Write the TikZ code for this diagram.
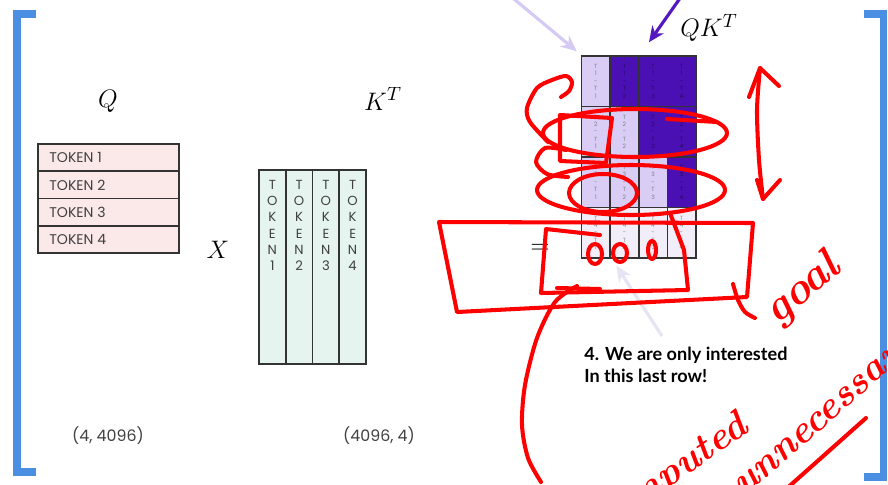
\documentclass[tikz,border=0pt]{standalone}
\usepackage{fontspec}
\newfontfamily\slidefont{Poppins}
\newfontfamily\notefont{Lato}
\usetikzlibrary{arrows.meta}

\definecolor{bracketblue}{HTML}{4A8FE2}
\definecolor{qpink}{HTML}{FBE9E9}
\definecolor{kmint}{HTML}{E6F4EF}
\definecolor{lilac}{HTML}{D9CCF5}
\definecolor{deeppurple}{HTML}{4A10B4}
\definecolor{paler}{HTML}{F1EEF9}
\definecolor{arrowlilac}{HTML}{D4CAF3}
\definecolor{arrowpurple}{HTML}{5518BE}
\definecolor{arrowfaint}{HTML}{E4E4F3}
\definecolor{inkred}{HTML}{FF0000}

\tikzset{
  qrowbox/.style={draw=black!80,line width=0.9pt,fill=qpink,minimum width=2.82cm,minimum height=0.545cm,inner sep=0pt},
  kcolbox/.style={draw=black!80,line width=0.9pt,fill=kmint,minimum width=0.535cm,minimum height=3.88cm,inner sep=0pt},
  qkcell/.style={draw=black!80,line width=0.9pt,minimum width=0.572cm,minimum height=1.01cm,inner sep=0pt,align=center,font=\slidefont\fontsize{3.4}{4.2}\selectfont},
  toklabel/.style={font=\slidefont\fontsize{8}{9.6}\selectfont,text=black!75,inner sep=0pt},
  tokstack/.style={font=\slidefont\fontsize{7.5}{9.2}\selectfont,text=black!75,align=center,inner sep=0pt},
  dimlabel/.style={font=\slidefont\fontsize{9}{11}\selectfont,text=black!75},
  mathlabel/.style={font=\fontsize{15}{18}\selectfont},
  notetext/.style={font=\notefont\bfseries\fontsize{10.3}{12.4}\selectfont,align=left,inner sep=0pt},
  ink/.style={draw=inkred,line width=2.3pt,line cap=round,line join=round},
  handtext/.style={text=inkred,font=\bfseries\itshape\fontsize{22}{26}\selectfont,inner sep=0pt},
}

\begin{document}
\begin{tikzpicture}[x=0.02cm,y=-0.02cm,>=Stealth]
\useasboundingbox (0,0) rectangle (888,484);
\clip (0,0) rectangle (888,484);
% ---------- brackets ----------
\draw[bracketblue,line width=4pt] (36,14) -- (17,14) -- (17,472) -- (36,472);
\draw[bracketblue,line width=4pt] (864,14) -- (883,14) -- (883,477) -- (864,477);
% ---------- Q ----------
\node[mathlabel] (qlab) at (108,101) {$Q$};
\foreach \i in {1,...,4} {
  \node[qrowbox] (qr\i) at (108.5,{144+(\i-.5)*27.25}) {};
  \node[toklabel,anchor=west] (qt\i) at (49,{144+(\i-.5)*27.25}) {TOKEN \i};
}
\node[dimlabel] (qdim) at (108,436) {(4, 4096)};
\node[mathlabel] (times) at (218,250) {$X$};
% ---------- K^T ----------
\node[mathlabel] (klab) at (383,99) {$K^T$};
\foreach \j in {1,...,4} {
  \node[kcolbox] (kc\j) at ({259+(\j-.5)*26.75},267) {};
  \node[tokstack,anchor=north] (kt\j) at ({259+(\j-.5)*26.75},180) {T\\O\\K\\E\\N\\\j};
}
\node[dimlabel] (kdim) at (379,436) {(4096, 4)};
% ---------- QK^T ----------
\node[mathlabel] (eq) at (540,249) {$=$};
\node[mathlabel] (qklab) at (709,28) {$QK^T$};
\foreach \r in {1,...,4}
  \foreach \c in {1,...,4} {
    \ifnum\r=4 \def\cellcol{paler}\def\celltext{black!45}\else
      \ifnum\c>\r \def\cellcol{deeppurple}\def\celltext{deeppurple!55!black}\else
        \def\cellcol{lilac}\def\celltext{black!50}\fi
    \fi
    \node[qkcell,fill=\cellcol,text=\celltext] (m\r\c)
      at ({581.5+(\c-.5)*28.6},{56+(\r-.5)*50.5}) {T\\\r\\-\\T\\\c};
  }
% slide arrows
\coordinate (lilactail) at (508,-6);
\coordinate (purpletail) at (683,-6);
\coordinate (notetail) at (662,336);
\draw[arrowlilac,line width=1.8pt,-{Stealth[length=9pt,width=8pt]}] (lilactail) -- ([shift={(-4,-4)}]m11.north west);
\draw[arrowpurple,line width=1.8pt,-{Stealth[length=9pt,width=8pt]}] (purpletail) -- ([shift={(-4,-13)}]m13.north);
\draw[arrowfaint,line width=1.8pt,-{Stealth[length=9pt,width=8pt]}] (notetail) -- ([shift={(-8,7)}]m42.south);
\node[notetext,anchor=north west] (note) at (584,347) {4. We are only interested\\In this last row!};
% ---------- red pen ----------
\draw[ink] plot[smooth] coordinates {(548,142) (530,122) (527,108) (537,88) (552,80) (566,76) (572,82) (569,91) (561,97)};
\draw[ink] (635,133) ellipse [x radius=92, y radius=24];
\draw[ink] (667,119) -- (717,122);
\draw[ink] (631,190) ellipse [x radius=94, y radius=25];
\draw[ink] (560,115) -- (612,118) -- (606,163) -- (560,161) -- cycle;
\draw[ink] (603,193) ellipse [x radius=34, y radius=19];
\draw[ink] plot[smooth] coordinates {(566,150) (545,148) (536,162) (547,174) (568,177)};
% double arrow
\draw[ink] plot[smooth] coordinates {(760,68) (757,110) (759,160) (763,199)};
\draw[ink] (749,97) -- (760,68) -- (779,86);
\draw[ink] (757,180) -- (763,199) -- (780,180);
% boxes round the last row
\draw[ink] (439,222) -- (753,223) -- (747,297) -- (457,312) -- cycle;
\draw[ink] plot[smooth] coordinates {(733,284) (738,300) (745,312) (755,318)};
\draw[ink] (600,235) -- (546,229) -- (541,293) -- (688,290) -- (684,250) -- (670,213);
\draw[ink] (595,254) ellipse [x radius=7, y radius=10];
\draw[ink] (620,253) ellipse [x radius=7, y radius=9];
\draw[ink] (652,250) ellipse [x radius=4, y radius=9];
\draw[ink] plot[smooth] coordinates {(577,286) (555,302) (537,338) (525,385) (522,425) (528,458) (541,482)};
\draw[ink] (557,288) -- (600,289);
% handwriting
\node[handtext,rotate=40,font=\bfseries\itshape\fontsize{25}{30}\selectfont] (goal) at (803,290) {goal};
\node[handtext,rotate=35,anchor=base east] (computed) at (750,431) {computed};
\node[handtext,rotate=41,anchor=base west] (unneeded) at (744,497) {unnecessarily};
\draw[ink] (785,490) -- (866,418);
\end{tikzpicture}
\end{document}
